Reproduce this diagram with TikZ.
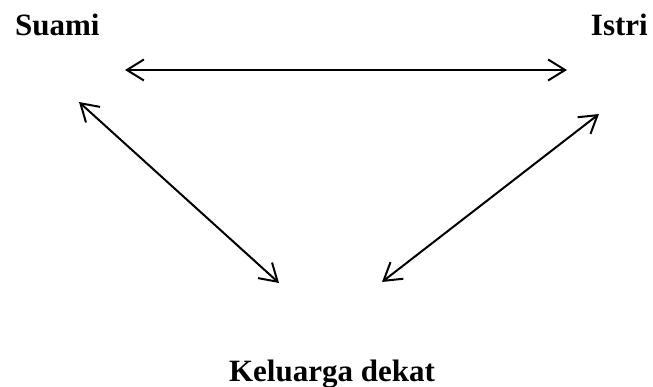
\documentclass[tikz,border=0pt]{standalone}
\usepackage{fontspec}
\setmainfont{Liberation Serif}
\usetikzlibrary{arrows.meta}
\begin{document}
\begin{tikzpicture}[x=1pt,y=-1pt,
  lbl/.style={font=\fontsize{31}{36}\selectfont\bfseries, inner sep=0pt},
  link/.style={line width=2pt, {Straight Barb[length=17pt,width=21pt,line width=2pt]}-{Straight Barb[length=17pt,width=21pt,line width=2pt]}}]
\useasboundingbox (0,0) rectangle (653,387);
\node[lbl, anchor=base west] (suami) at (15,36) {Suami};
\node[lbl, anchor=base east] (istri) at (648,36) {Istri};
\node[lbl, anchor=base] (kel) at (332,381) {Keluarga dekat};
\coordinate (h1) at (125,70);
\coordinate (h2) at (567,70);
\coordinate (l1) at (79,102);
\coordinate (l2) at (279,283);
\coordinate (r1) at (382,282);
\coordinate (r2) at (599,114);
\draw[link] (h1) -- (h2);
\draw[link] (l1) -- (l2);
\draw[link] (r1) -- (r2);
\end{tikzpicture}
\end{document}
